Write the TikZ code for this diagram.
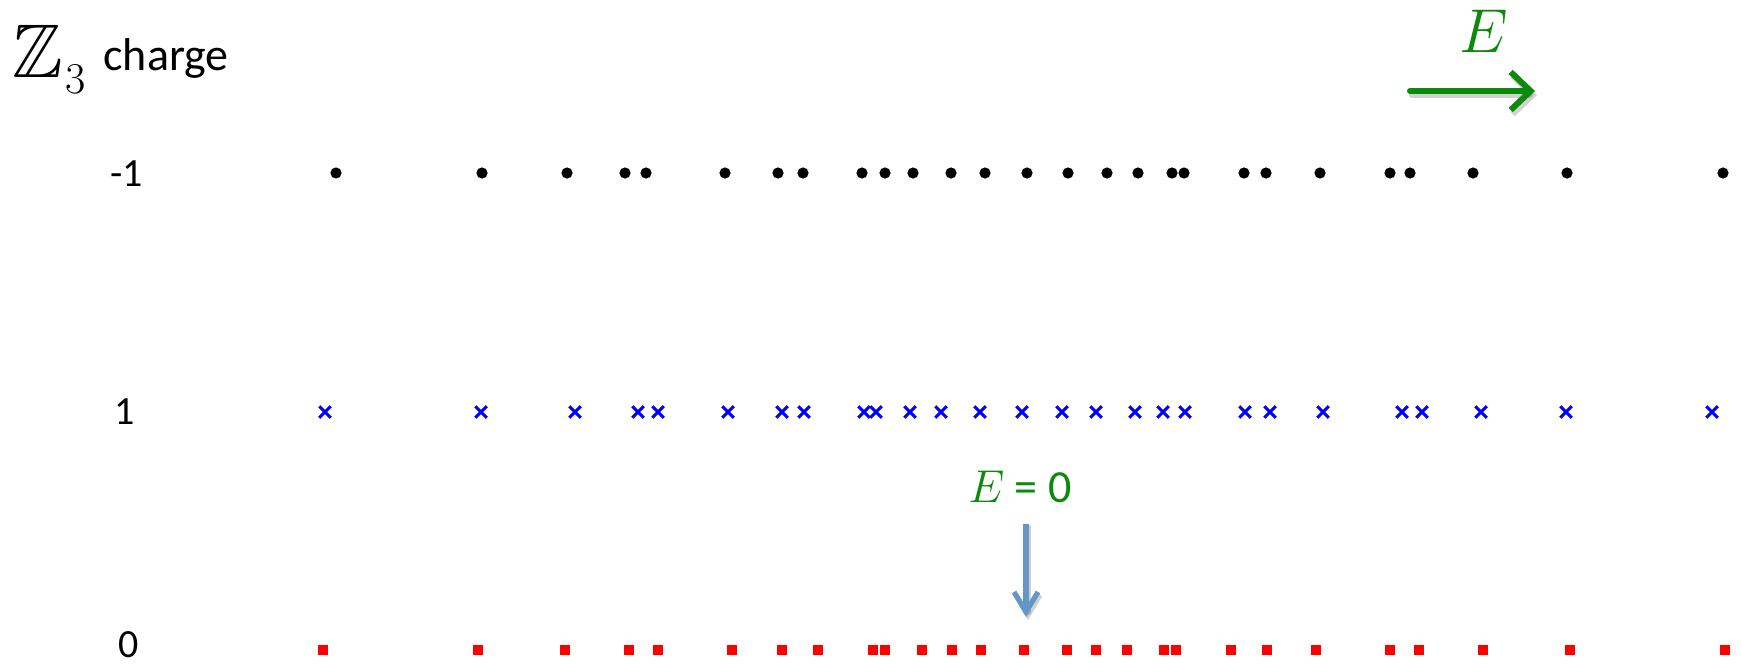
\RequirePackage{fix-cm}
\documentclass[tikz,border=0pt]{standalone}
\usepackage{amssymb}
\DeclareFontFamily{U}{msb}{}
\DeclareFontShape{U}{msb}{m}{n}{<-6>msbm5<6-8>msbm7<8->msbm10}{}
\usepackage{fontspec}
\setmainfont{Carlito}
\usetikzlibrary{arrows.meta, shapes.misc}
\definecolor{fieldgreen}{HTML}{0B8A0B}
\definecolor{zeroblue}{HTML}{6496C8}

\begin{document}
\begin{tikzpicture}[x=0.5pt, y=-0.5pt,
    dot/.style={circle, fill=black, inner sep=0pt, minimum size=5.6pt},
    xmark/.style={cross out, draw=blue, line width=1.45pt, inner sep=0pt,
                  minimum size=4.3pt},
    sqmark/.style={rectangle, fill=red, inner sep=0pt, minimum size=5.3pt},
    rowlab/.style={anchor=base, font=\fontsize{20}{20}\selectfont},
    shadow/.style={black, opacity=0.18, line cap=round},
  ]
  \useasboundingbox (0,0) rectangle (1741,664);

  % axis title
  \node[anchor=base west, inner sep=0pt] (zlabel) at (12,77)
    {\fontsize{38}{38}\selectfont$\mathbb{Z}$\kern1pt\raisebox{-8pt}{\fontsize{22}{22}\selectfont$3$}};
  \node[anchor=base west, inner sep=0pt, font=\fontsize{23}{23}\selectfont]
    (charge) at (103,70) {charge};

  % charge labels
  \node[rowlab] (lm1) at (127,186) {-1};
  \node[rowlab] (lp1) at (125,424) {1};
  \node[rowlab] (l0)  at (129,657) {0};

  % charge -1
  \foreach \x [count=\i] in {336,482,567,625,646,725,778,803,862,885,913,951,
      985,1027,1068,1107,1138,1172,1184,1244,1266,1320,1390,1410,1473,1567,1723}
    \node[dot] (dot\i) at (\x,173) {};

  % charge 1
  \foreach \x [count=\i] in {325,481,575,638,658,728,782,804,864,876,910,941,
      980,1022,1062,1096,1135,1163,1185,1245,1270,1323,1402,1422,1481,1566,1712}
    \node[xmark] (cross\i) at (\x,412) {};

  % charge 0
  \foreach \x [count=\i] in {323,478,565,629,658,732,782,818,873,885,922,952,
      981,1024,1067,1096,1127,1164,1176,1231,1267,1316,1390,1419,1483,1570,1725}
    \node[sqmark] (sq\i) at (\x,650) {};

  % field direction
  \node[anchor=base, text=fieldgreen, font=\fontsize{31}{31}\selectfont]
    (elabel) at (1484,53) {$E$};
  \coordinate (estart) at (1410,91);
  \coordinate (etip) at (1535,91);
  \draw[shadow, line width=3pt, -{Straight Barb[length=10pt, width=19pt]}]
    ([shift={(2,4)}]estart) -- ([shift={(2,4)}]etip);
  \draw[fieldgreen, line width=3pt, line cap=round,
        -{Straight Barb[length=10pt, width=19pt]}] (estart) -- (etip);

  % zero field marker
  \node[anchor=base, text=fieldgreen, font=\fontsize{23}{23}\selectfont]
    (ezero) at (1020,502) {$E$ = 0};
  \coordinate (zstart) at (1026,524);
  \coordinate (ztip) at (1026,617);
  \draw[shadow, line width=2.6pt, -{Straight Barb[length=10pt, width=12pt]}]
    ([shift={(2,3)}]zstart) -- ([shift={(2,3)}]ztip);
  \draw[zeroblue, line width=2.6pt, -{Straight Barb[length=10pt, width=12pt]}]
    (zstart) -- (ztip);
\end{tikzpicture}
\end{document}
